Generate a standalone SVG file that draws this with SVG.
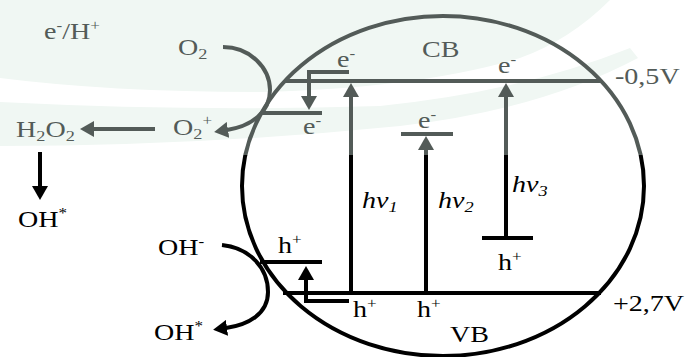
<svg xmlns="http://www.w3.org/2000/svg" width="685" height="357" viewBox="0 0 685 357">
<defs>
<style>
text{font-family:"Liberation Serif","Times New Roman",serif;font-size:23px}
.g{fill:#535b58}
.k{fill:#000}
.ln{fill:none;stroke-width:4}
.gs{stroke:#535b58}
.ks{stroke:#000}
.gr{stroke:url(#fade)}
.it{font-style:italic}
.sup{font-size:14px}
.sub{font-size:15px}
.tint{fill:#f0f7f3}
</style>
<linearGradient id="fade" gradientUnits="userSpaceOnUse" x1="0" y1="0" x2="0" y2="357">
<stop offset="0.434" stop-color="#535b58"/><stop offset="0.434" stop-color="#000"/>
</linearGradient>
<marker id="ag" markerUnits="userSpaceOnUse" viewBox="0 0 14 16" markerWidth="14" markerHeight="16" refX="1" refY="8" orient="auto"><path d="M0,0 L14,8 L0,16 z" fill="#535b58"/></marker>
<marker id="ak" markerUnits="userSpaceOnUse" viewBox="0 0 14 16" markerWidth="14" markerHeight="16" refX="1" refY="8" orient="auto"><path d="M0,0 L14,8 L0,16 z" fill="#000"/></marker>
</defs>
<rect width="685" height="357" fill="#fff"/>
<g id="background">
<path class="tint" d="M0,0 H610 Q570 40 520 58 Q420 88 260 92 Q110 92 0 78 Z"/>
<path class="tint" d="M0,102 Q200 112 380 106 Q520 92 630 48 L638 58 Q540 110 400 126 Q200 146 0 146 Z"/>
</g>
<g id="particle">
<ellipse cx="443" cy="186" rx="201" ry="170" class="ln gr"/>
</g>
<g id="conduction-band">
<path class="ln gs" d="M285 81 H601"/>
<path class="ln gs" d="M262 113 H322"/>
<path class="ln gs" d="M401 134 H453"/>
<text class="g" transform="translate(422,57) scale(1.22,1)">CB</text>
<text class="g" transform="translate(615,84) scale(1.22,1)">-0,5V</text>
<text class="g" transform="translate(337,67) scale(1.22,1)">e<tspan class="sup" dy="-9">-</tspan></text>
<text class="g" transform="translate(498,73) scale(1.22,1)">e<tspan class="sup" dy="-9">-</tspan></text>
<text class="g" transform="translate(303,134) scale(1.22,1)">e<tspan class="sup" dy="-9">-</tspan></text>
<text class="g" transform="translate(418,128) scale(1.22,1)">e<tspan class="sup" dy="-9">-</tspan></text>
</g>
<g id="valence-band">
<path class="ln ks" d="M283 293 H601"/>
<path class="ln ks" d="M260 262 H322"/>
<path class="ln ks" d="M482 238 H533"/>
<text class="k" transform="translate(450,342) scale(1.22,1)">VB</text>
<text class="k" transform="translate(613,311) scale(1.22,1)">+2,7V</text>
<text class="k" transform="translate(278,253) scale(1.22,1)">h<tspan class="sup" dy="-9">+</tspan></text>
<text class="k" transform="translate(353,317) scale(1.22,1)">h<tspan class="sup" dy="-9">+</tspan></text>
<text class="k" transform="translate(417,317) scale(1.22,1)">h<tspan class="sup" dy="-9">+</tspan></text>
<text class="k" transform="translate(498,270) scale(1.22,1)">h<tspan class="sup" dy="-9">+</tspan></text>
</g>
<g id="excitation-labels">
<text class="k it" transform="translate(362,208) scale(1.22,1)">hv<tspan class="sub" dy="4">1</tspan></text>
<text class="k it" transform="translate(438,208) scale(1.22,1)">hv<tspan class="sub" dy="4">2</tspan></text>
<text class="k it" transform="translate(512,192) scale(1.22,1)">hv<tspan class="sub" dy="4">3</tspan></text>
</g>
<g id="species">
<text class="g" transform="translate(44,39) scale(1.22,1)">e<tspan class="sup" dy="-9">-</tspan><tspan dy="9">/H</tspan><tspan class="sup" dy="-9">+</tspan></text>
<text class="g" transform="translate(178,55) scale(1.22,1)">O<tspan class="sub" dy="4">2</tspan></text>
<text class="g" transform="translate(173,135) scale(1.22,1)">O<tspan class="sub" dy="4">2</tspan><tspan class="sup" dy="-14">+</tspan></text>
<text class="g" transform="translate(16,137) scale(1.22,1)">H<tspan class="sub" dy="4">2</tspan><tspan dy="-4">O</tspan><tspan class="sub" dy="4">2</tspan></text>
<text class="k" transform="translate(18,227) scale(1.22,1)">OH<tspan class="sup" dy="-9">*</tspan></text>
<text class="k" transform="translate(158,255) scale(1.22,1)">OH<tspan class="sup" dy="-9">-</tspan></text>
<text class="k" transform="translate(154,340) scale(1.22,1)">OH<tspan class="sup" dy="-9">*</tspan></text>
</g>
<g id="connectors">
<path class="ln gr" d="M351 293 V96" marker-end="url(#ag)"/>
<path class="ln gr" d="M426 293 V149" marker-end="url(#ag)"/>
<path class="ln gr" d="M506 238 V96" marker-end="url(#ag)"/>
<path class="ln gs" d="M349 72 H309 V97" marker-end="url(#ag)"/>
<path class="ln ks" d="M349 301 H306 V279" marker-end="url(#ak)"/>
<path class="ln gs" d="M155 129 H93" marker-end="url(#ag)"/>
<path class="ln ks" d="M40 152 V187" stroke-width="5" marker-end="url(#ak)"/>
<path class="ln gs" d="M223 47 C250 47 270 68 270 90 C270 112 252 126 227 130" marker-end="url(#ag)"/>
<path class="ln ks" d="M222 245 C250 248 268 268 268 292 C268 314 248 325 226 328" marker-end="url(#ak)"/>
</g>
</svg>
